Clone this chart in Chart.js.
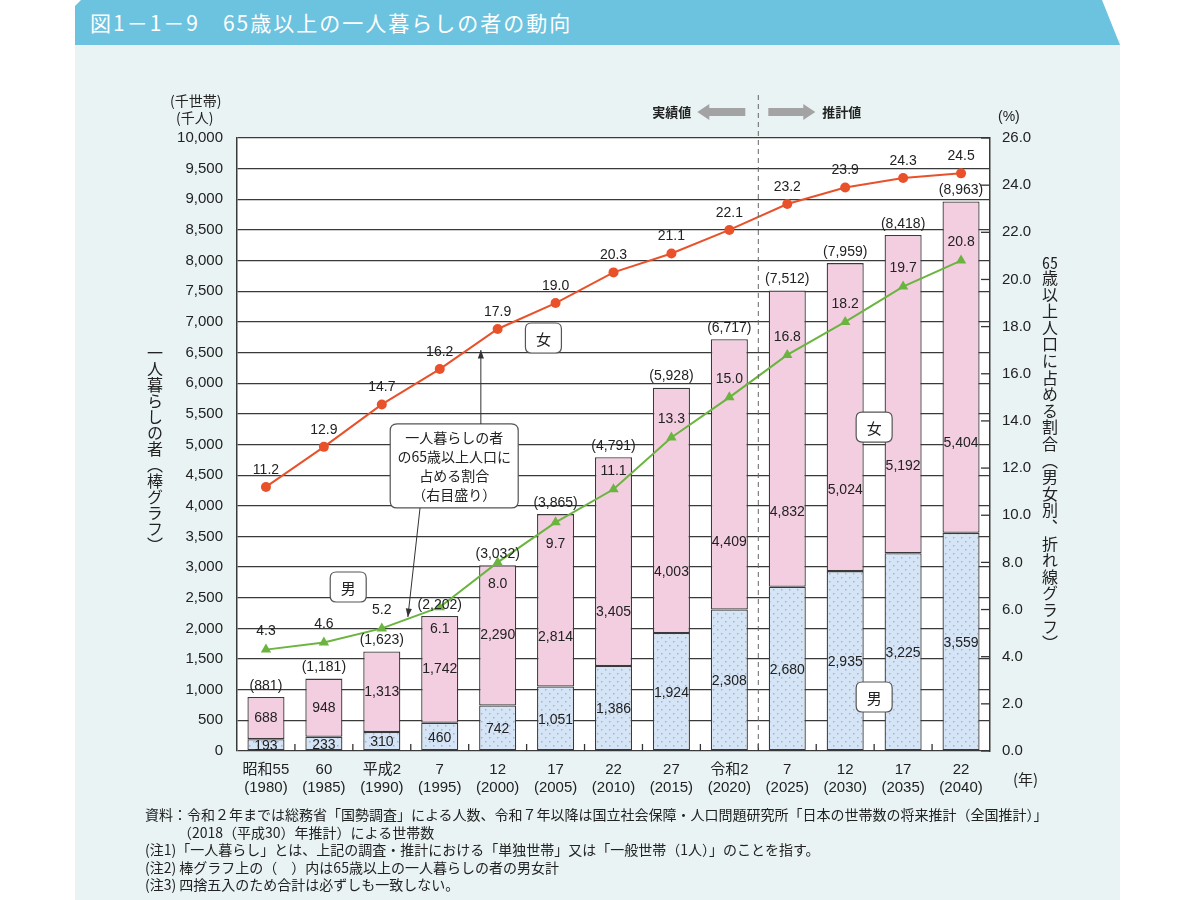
<!DOCTYPE html>
<html lang="ja">
<head>
<meta charset="utf-8">
<script src="https://cdn.jsdelivr.net/npm/chart.js@4.4.1/dist/chart.umd.min.js"></script>
<style>
  html,body{margin:0;padding:0;background:#fff;width:1200px;height:900px;overflow:hidden;}
  body{position:relative;font-family:"Noto Sans CJK JP","Noto Sans",sans-serif;color:#222;}
  #panel{position:absolute;left:75px;top:40px;width:1045px;height:860px;background:#e9f3f3;}
  #titlebar{position:absolute;left:75px;top:0;width:1045px;height:45px;background:#6cc3df;
    clip-path:polygon(0 6px,6px 0,1027px 0,1045px 45px,0 45px);}
  #title{position:absolute;left:90px;top:7px;color:#fff;font-size:21px;letter-spacing:2px;white-space:nowrap;}
  canvas{position:absolute;left:0;top:0;}
  .vt{position:absolute;writing-mode:vertical-rl;text-orientation:mixed;font-size:16px;line-height:18px;white-space:nowrap;color:#222;}
  .tcy{text-combine-upright:all;}
  .unit{position:absolute;font-size:14px;white-space:nowrap;color:#222;}
  #notes{position:absolute;left:145px;top:806px;font-size:14px;line-height:17.5px;color:#222;white-space:nowrap;}
  #notes div.ind{padding-left:33px;}
</style>
</head>
<body>
<div id="panel"></div>
<div id="titlebar"></div>
<div id="title">図1－1－9　65歳以上の一人暮らしの者の動向</div>
<canvas id="c" width="1200" height="900"></canvas>
<div class="unit" style="left:170px;top:90px;">(千世帯)</div>
<div class="unit" style="left:176px;top:107px;">(千人)</div>
<div class="unit" style="left:998px;top:108px;font-family:'Liberation Sans';font-size:14px;">(%)</div>
<div class="unit" style="left:1013px;top:768px;font-size:15px;">(年)</div>
<div class="vt" style="left:146px;top:345px;">一人暮らしの者（棒グラフ）</div>
<div class="vt" style="left:1041px;top:254px;letter-spacing:0.6px;"><span class="tcy">65</span>歳以上人口に占める割合（男女別、折れ線グラフ）</div>
<div id="notes">
  <div>資料：令和２年までは総務省「国勢調査」による人数、令和７年以降は国立社会保障・人口問題研究所「日本の世帯数の将来推計（全国推計）」</div>
  <div class="ind">（2018（平成30）年推計）による世帯数</div>
  <div>(注1)「一人暮らし」とは、上記の調査・推計における「単独世帯」又は「一般世帯（1人）」のことを指す。</div>
  <div>(注2) 棒グラフ上の（　）内は65歳以上の一人暮らしの者の男女計</div>
  <div>(注3) 四捨五入のため合計は必ずしも一致しない。</div>
</div>
<script>
// ---- data ----
const eraLabels  = ['昭和55','60','平成2','7','12','17','22','27','令和2','7','12','17','22'];
const yearLabels = ['(1980)','(1985)','(1990)','(1995)','(2000)','(2005)','(2010)','(2015)','(2020)','(2025)','(2030)','(2035)','(2040)'];
const menCount   = [193, 233, 310, 460, 742, 1051, 1386, 1924, 2308, 2680, 2935, 3225, 3559];
const womenCount = [688, 948, 1313, 1742, 2290, 2814, 3405, 4003, 4409, 4832, 5024, 5192, 5404];
const totalCount = [881, 1181, 1623, 2202, 3032, 3865, 4791, 5928, 6717, 7512, 7959, 8418, 8963];
const menRate    = [4.3, 4.6, 5.2, 6.1, 8.0, 9.7, 11.1, 13.3, 15.0, 16.8, 18.2, 19.7, 20.8];
const womenRate  = [11.2, 12.9, 14.7, 16.2, 17.9, 19.0, 20.3, 21.1, 22.1, 23.2, 23.9, 24.3, 24.5];
const leftTicksMax = 10000, leftStep = 500, rightMax = 26, rightStep = 2;

const categories = eraLabels.map((e, i) => [e, yearLabels[i]]);
const fmt = v => v.toLocaleString('en-US');

const canvas = document.getElementById('c');
const cctx = canvas.getContext('2d');
const dotPattern = (() => {
  const c = document.createElement('canvas'); c.width = 8; c.height = 8;
  const g = c.getContext('2d');
  g.fillStyle = '#d6e5f6'; g.fillRect(0, 0, 8, 8);
  g.fillStyle = '#9ab5df';
  g.fillRect(1, 1, 1.5, 1.5); g.fillRect(5, 5, 1.5, 1.5);
  return cctx.createPattern(c, 'repeat');
})();

const NUMFONT = '"Liberation Sans", Arial, sans-serif';
const JPFONT = '"Noto Sans CJK JP", sans-serif';

function roundRect(ctx, x, y, w, h, r) {
  ctx.beginPath();
  ctx.moveTo(x + r, y); ctx.lineTo(x + w - r, y); ctx.quadraticCurveTo(x + w, y, x + w, y + r);
  ctx.lineTo(x + w, y + h - r); ctx.quadraticCurveTo(x + w, y + h, x + w - r, y + h);
  ctx.lineTo(x + r, y + h); ctx.quadraticCurveTo(x, y + h, x, y + h - r);
  ctx.lineTo(x, y + r); ctx.quadraticCurveTo(x, y, x + r, y); ctx.closePath();
}
function arrowHead(ctx, x1, y1, x2, y2, size) {
  const a = Math.atan2(y2 - y1, x2 - x1);
  ctx.beginPath();
  ctx.moveTo(x2, y2);
  ctx.lineTo(x2 - size * Math.cos(a - 0.35), y2 - size * Math.sin(a - 0.35));
  ctx.lineTo(x2 - size * Math.cos(a + 0.35), y2 - size * Math.sin(a + 0.35));
  ctx.closePath(); ctx.fill();
}

const bgPlugin = {
  id: 'bg',
  beforeDraw(chart) {
    const {ctx, chartArea: a} = chart;
    ctx.save(); ctx.fillStyle = '#fff';
    ctx.fillRect(a.left, a.top, a.right - a.left, a.bottom - a.top);
    ctx.restore();
  }
};

const labelPlugin = {
  id: 'labels',
  afterDatasetsDraw(chart) {
    const {ctx, scales: {x, y, y1}} = chart;
    ctx.save();
    ctx.font = '14px ' + NUMFONT;
    ctx.textAlign = 'center'; ctx.textBaseline = 'middle'; ctx.fillStyle = '#222';
    categories.forEach((_, i) => {
      const cx = x.getPixelForValue(i);
      const base = y.getPixelForValue(0);
      const mTop = y.getPixelForValue(menCount[i]);
      const fTop = y.getPixelForValue(menCount[i] + womenCount[i]);
      const tTop = y.getPixelForValue(totalCount[i]);
      ctx.fillText('(' + fmt(totalCount[i]) + ')', cx, tTop - 11);
      ctx.fillText(fmt(menCount[i]), cx, (base + mTop) / 2 + 1);
      const gy = y1.getPixelForValue(menRate[i]);
      let fy = (mTop + fTop) / 2;
      if (gy > fTop && gy < mTop) fy = mTop - 0.37 * (mTop - (gy + 30));
      ctx.fillText(fmt(womenCount[i]), cx, fy);
      // rate labels
      const oy = y1.getPixelForValue(womenRate[i]);
      ctx.fillText(womenRate[i].toFixed(1), cx, oy - 17);
      const below = Math.abs(gy - tTop) < 15;
      ctx.fillText(menRate[i].toFixed(1), cx, below ? gy + 22 : gy - 18);
    });
    ctx.restore();
  },
  afterDraw(chart) {
    const {ctx, chartArea: a, scales: {x, y, y1}} = chart;
    ctx.save();
    const step = x.getPixelForValue(1) - x.getPixelForValue(0);
    // bottom inside ticks between categories
    ctx.strokeStyle = '#333'; ctx.lineWidth = 1.3;
    for (let i = 0; i < categories.length - 1; i++) {
      const bx = x.getPixelForValue(i) + step / 2;
      ctx.beginPath(); ctx.moveTo(bx, a.bottom); ctx.lineTo(bx, a.bottom - 7); ctx.stroke();
    }
    // right inside ticks
    for (let v = 0; v <= rightMax; v += rightStep) {
      const py = y1.getPixelForValue(v);
      ctx.beginPath(); ctx.moveTo(a.right, py); ctx.lineTo(a.right - 9, py); ctx.stroke();
    }
    // dashed separator between actual and projection
    const sx = x.getPixelForValue(8.5);
    ctx.strokeStyle = '#666'; ctx.lineWidth = 1; ctx.setLineDash([5, 4]);
    ctx.beginPath(); ctx.moveTo(sx, a.top - 43); ctx.lineTo(sx, a.bottom); ctx.stroke();
    ctx.setLineDash([]);
    // arrows
    const ay = a.top - 26;
    ctx.fillStyle = '#a3a3a3';
    const drawBigArrow = (from, to) => {
      const dir = Math.sign(to - from);
      const headStart = to - dir * 12;
      ctx.beginPath();
      ctx.moveTo(from, ay - 4); ctx.lineTo(headStart, ay - 4); ctx.lineTo(headStart, ay - 8);
      ctx.lineTo(to, ay); ctx.lineTo(headStart, ay + 8); ctx.lineTo(headStart, ay + 4);
      ctx.lineTo(from, ay + 4); ctx.closePath(); ctx.fill();
    };
    drawBigArrow(sx - 13, sx - 61);
    drawBigArrow(sx + 10, sx + 57);
    ctx.fillStyle = '#222'; ctx.font = 'bold 13px ' + JPFONT; ctx.textBaseline = 'middle';
    ctx.textAlign = 'right'; ctx.fillText('実績値', sx - 67, ay);
    ctx.textAlign = 'left'; ctx.fillText('推計値', sx + 64, ay);

    // small callout boxes
    const box = (ix, val, text) => {
      const bx = x.getPixelForValue(ix), by = y.getPixelForValue(val);
      ctx.fillStyle = '#fff'; ctx.strokeStyle = '#555'; ctx.lineWidth = 1.2;
      roundRect(ctx, bx - 18, by - 15, 36, 30, 6); ctx.fill(); ctx.stroke();
      ctx.fillStyle = '#222'; ctx.font = '15px ' + JPFONT; ctx.textAlign = 'center';
      ctx.fillText(text, bx, by + 1);
    };
    box(4.79, 6737, '女');
    box(10.5, 5285, '女');
    box(1.42, 2675, '男');
    box(10.5, 881, '男');

    // main callout
    const cx = x.getPixelForValue(3.25), cy = y.getPixelForValue(4650);
    ctx.fillStyle = '#fff'; ctx.strokeStyle = '#555'; ctx.lineWidth = 1.2;
    roundRect(ctx, cx - 64, cy - 42, 128, 84, 7); ctx.fill(); ctx.stroke();
    ctx.fillStyle = '#222'; ctx.font = '14px ' + JPFONT; ctx.textAlign = 'center';
    ['一人暮らしの者', 'の65歳以上人口に', '占める割合', '（右目盛り）'].forEach((t, k) => {
      ctx.fillText(t, cx, cy - 28 + k * 19);
    });
    // arrow up to women line
    ctx.strokeStyle = '#333'; ctx.fillStyle = '#333'; ctx.lineWidth = 1;
    const ux = x.getPixelForValue(3.71), uyTop = y.getPixelForValue(6540);
    ctx.beginPath(); ctx.moveTo(ux, cy - 42); ctx.lineTo(ux, uyTop); ctx.stroke();
    arrowHead(ctx, ux, cy - 42, ux, uyTop, 9);
    // arrow down to men line
    const d1x = x.getPixelForValue(2.66), d2x = x.getPixelForValue(2.45), d2y = y.getPixelForValue(2186);
    ctx.beginPath(); ctx.moveTo(d1x, cy + 42); ctx.lineTo(d2x, d2y); ctx.stroke();
    arrowHead(ctx, d1x, cy + 42, d2x, d2y, 9);
    ctx.restore();
  }
};

new Chart(canvas, {
  type: 'bar',
  data: {
    labels: categories,
    datasets: [
      { label: '男', data: menCount, backgroundColor: dotPattern, borderColor: '#3a3a3a', borderWidth: 1.3,
        borderSkipped: false, stack: 's', yAxisID: 'y', order: 2, barPercentage: 0.64, categoryPercentage: 1 },
      { label: '女', data: womenCount, backgroundColor: '#f3cee0', borderColor: '#3a3a3a', borderWidth: 1.3,
        borderSkipped: false, stack: 's', yAxisID: 'y', order: 2, barPercentage: 0.64, categoryPercentage: 1 },
      { type: 'line', label: '女割合', data: womenRate, yAxisID: 'y1', borderColor: '#e8512a', backgroundColor: '#e8512a',
        borderWidth: 2, pointRadius: 5, pointStyle: 'circle', pointBorderWidth: 0, order: 1, tension: 0 },
      { type: 'line', label: '男割合', data: menRate, yAxisID: 'y1', borderColor: '#6ab43f', backgroundColor: '#6ab43f',
        borderWidth: 2, pointRadius: 6, pointStyle: 'triangle', pointBorderWidth: 0, order: 1, tension: 0 }
    ]
  },
  options: {
    responsive: false, animation: false, devicePixelRatio: 1,
    layout: { padding: { left: 0, right: 0, top: 138, bottom: 0 } },
    plugins: { legend: { display: false }, tooltip: { enabled: false } },
    scales: {
      x: {
        stacked: true, offset: true,
        grid: { display: false }, border: { display: false },
        ticks: { color: '#222', font: { family: NUMFONT + ', "Noto Sans CJK JP"', size: 15, lineHeight: 1.2 },
                 maxRotation: 0, autoSkip: false, padding: 2 },
        afterFit: s => { s.height = 149; }
      },
      y: {
        stacked: true, min: 0, max: leftTicksMax, position: 'left',
        ticks: { stepSize: leftStep, color: '#222', font: { family: NUMFONT, size: 15 }, padding: 14,
                 callback: v => fmt(v) },
        grid: { color: '#3a3a3a', lineWidth: 1.3, drawTicks: false },
        border: { color: '#3a3a3a', width: 1.5 },
        afterFit: s => { s.width = 237; }
      },
      y1: {
        min: 0, max: rightMax, position: 'right',
        ticks: { stepSize: rightStep, color: '#222', font: { family: NUMFONT, size: 15 }, padding: 12,
                 callback: v => v.toFixed(1) },
        grid: { drawOnChartArea: false, drawTicks: false },
        border: { color: '#3a3a3a', width: 1.5 },
        afterFit: s => { s.width = 210; }
      }
    }
  },
  plugins: [bgPlugin, labelPlugin]
});
</script>
</body>
</html>
